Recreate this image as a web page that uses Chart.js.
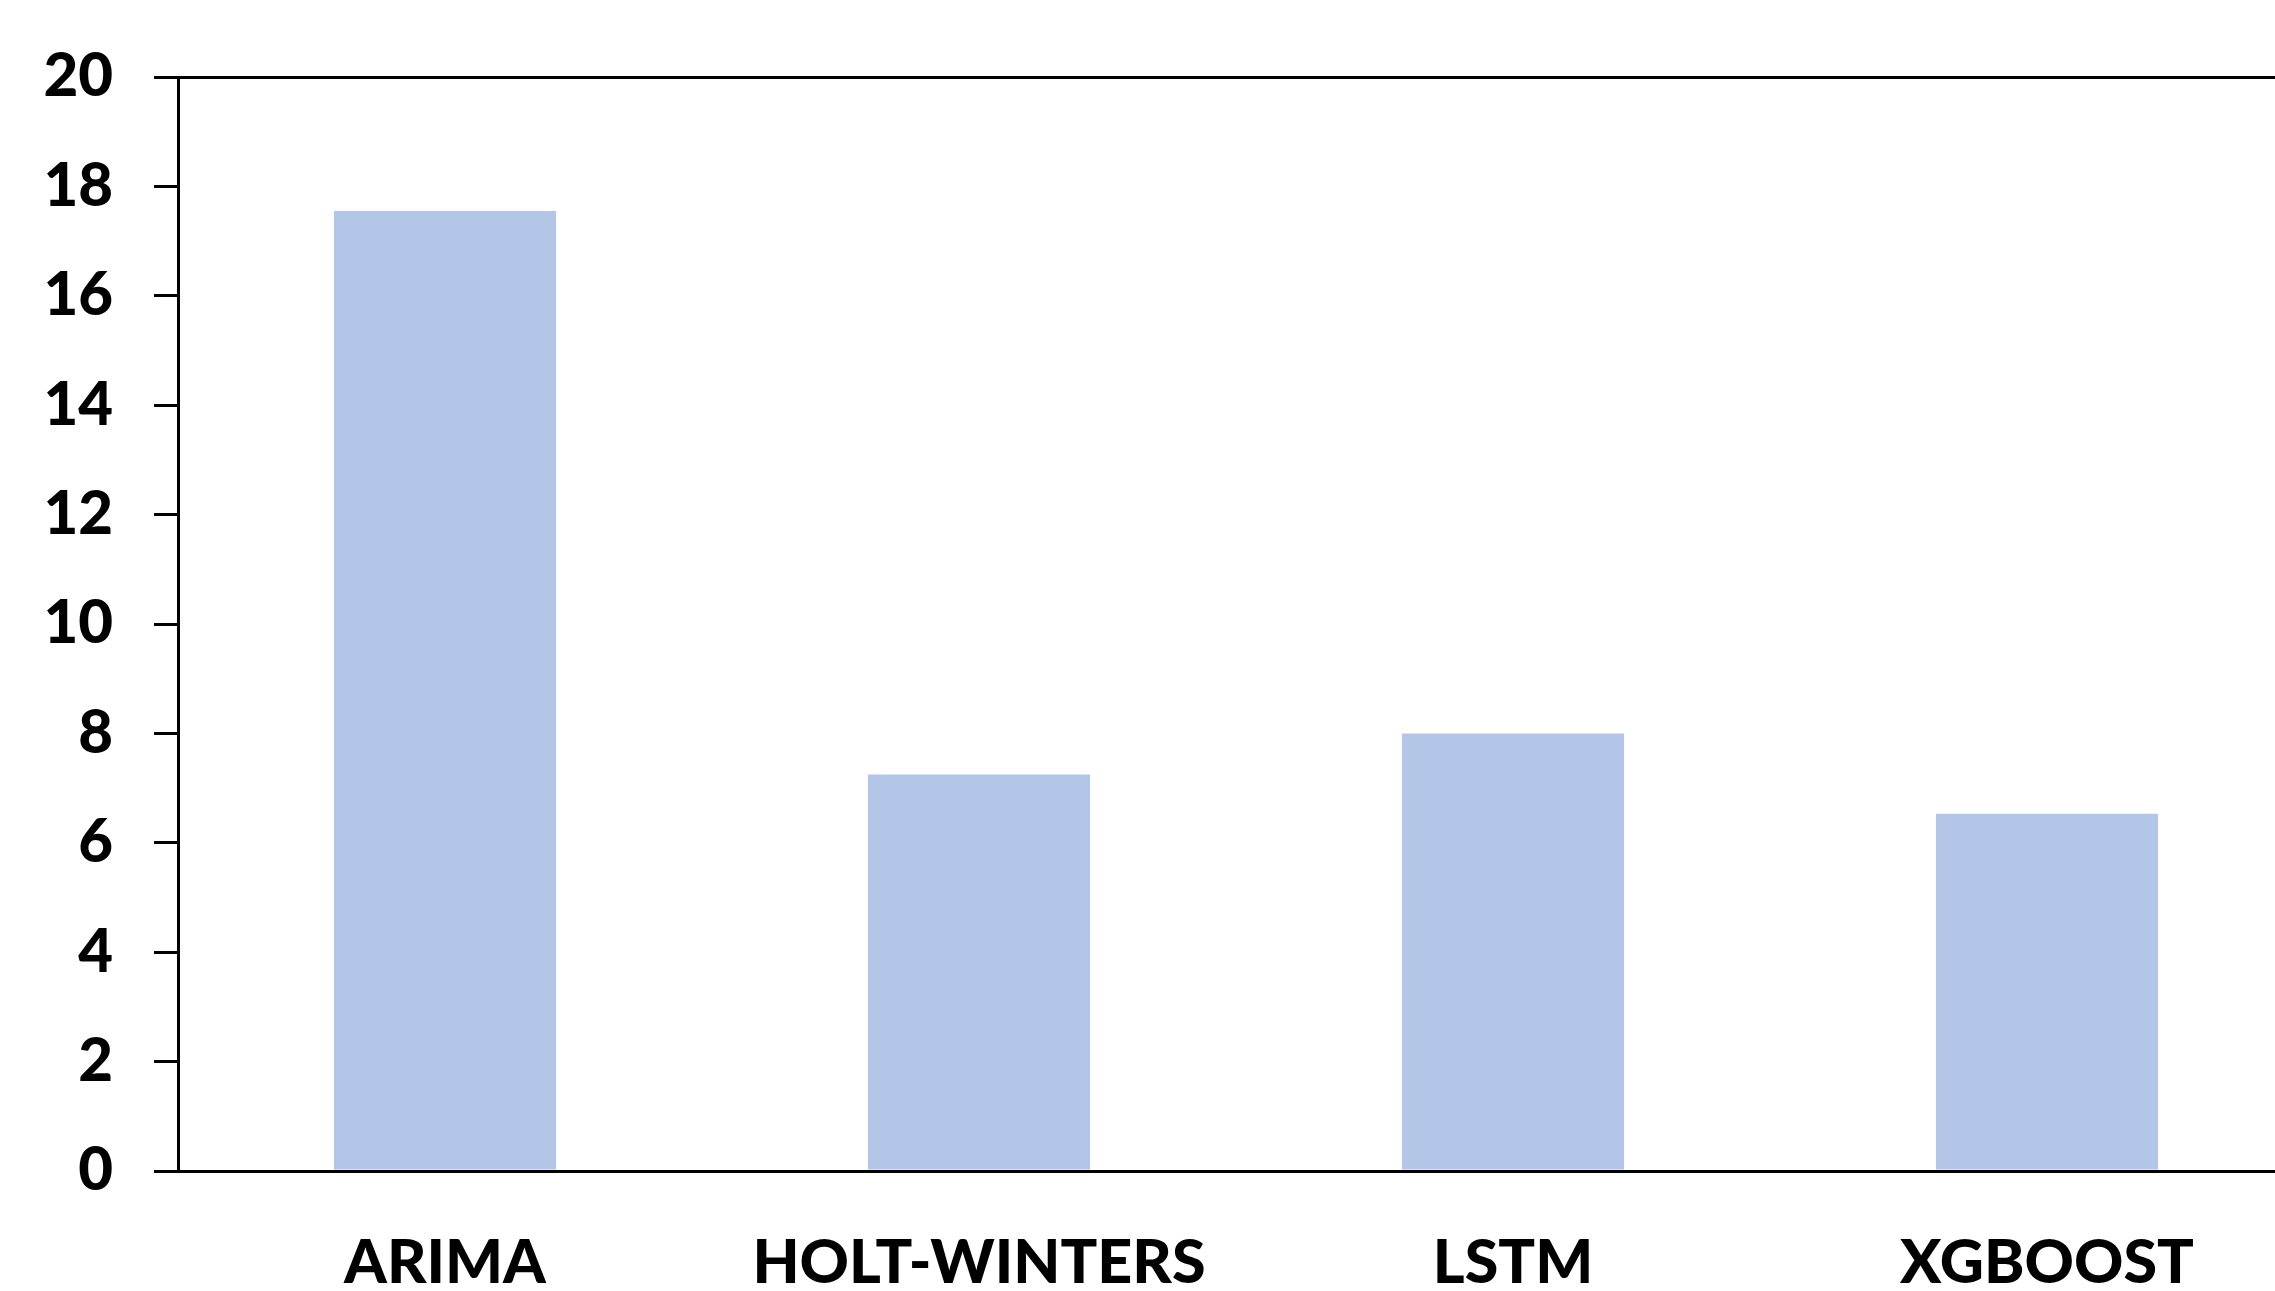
<!DOCTYPE html>
<html>
<head>
<meta charset="utf-8">
<script src="https://cdn.jsdelivr.net/npm/chart.js@4"></script>
<style>
  html, body { margin: 0; padding: 0; background: #fff; overflow: hidden; }
  #wrap { width: 2314px; height: 1291px; }
</style>
</head>
<body>
<div id="wrap"><canvas id="grafico" width="2314" height="1291"></canvas></div>
<script>
// Datos del gráfico
var modelos = ["ARIMA", "HOLT-WINTERS", "LSTM", "XGBOOST"];
var valores = [17.55, 7.25, 8.0, 6.53];
var ticksY = [0, 2, 4, 6, 8, 10, 12, 14, 16, 18, 20];

var fuente = "Lato, 'Open Sans', sans-serif";
var ctx = document.getElementById("grafico").getContext('2d');

var grafico = new Chart(ctx, {
    type: 'bar',
    data: {
        labels: modelos,
        datasets: [{
            data: valores,
            backgroundColor: '#B4C6E7',
            borderWidth: 0,
            categoryPercentage: 1.0,
            barPercentage: 0.416
        }]
    },
    options: {
        responsive: false,
        animation: false,
        layout: { padding: { top: 76, left: 0, right: 0, bottom: 0 } },
        plugins: {
            legend: { display: false },
            tooltip: { enabled: false }
        },
        scales: {
            x: {
                grid: { display: false },
                border: { display: true, color: '#000', width: 3 },
                ticks: {
                    color: '#000',
                    padding: 48,
                    font: { family: fuente, size: 61, weight: 900 }
                },
                afterFit: function (scale) { scale.height = 120; }
            },
            y: {
                min: 0,
                max: 20,
                afterBuildTicks: function (scale) {
                    scale.ticks = ticksY.map(function (v) { return { value: v }; });
                },
                grid: {
                    drawOnChartArea: true,
                    drawTicks: true,
                    tickLength: 24,
                    lineWidth: 3,
                    tickWidth: 3,
                    tickColor: '#000',
                    color: function (c) {
                        return (c.tick && (c.tick.value === 20 || c.tick.value === 0)) ? '#000' : 'rgba(0,0,0,0)';
                    }
                },
                border: { display: true, color: '#000', width: 3 },
                ticks: {
                    color: '#000',
                    padding: 41,
                    font: { family: fuente, size: 60, weight: 900 }
                },
                afterFit: function (scale) { scale.width = 178; }
            }
        }
    }
});
</script>
</body>
</html>
